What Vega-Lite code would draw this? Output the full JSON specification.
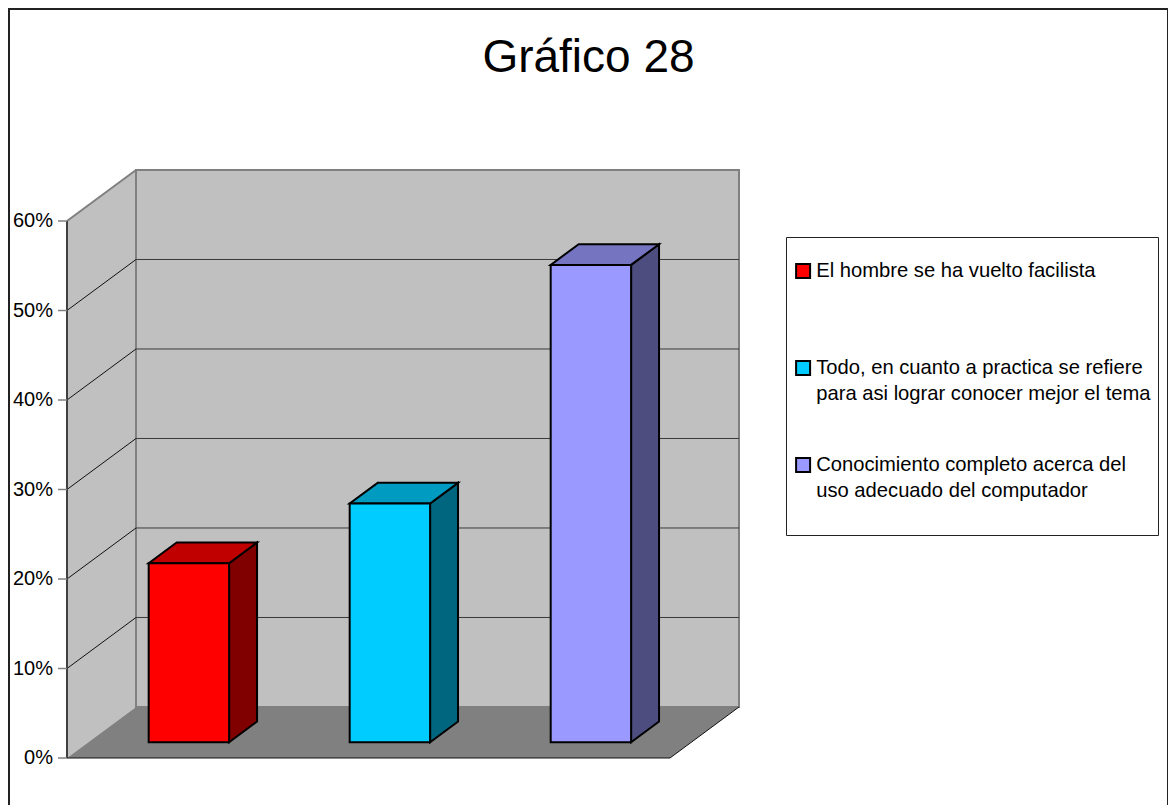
{
  "$schema": "https://vega.github.io/schema/vega-lite/v6.json",
  "autosize": "none",
  "padding": {"left": 9, "top": 9, "right": 0, "bottom": 0},
  "width": 1159,
  "height": 800,
  "background": "white",
  "config": {
    "view": {"stroke": "#222222", "strokeWidth": 2},
    "font": "Liberation Sans",
    "style": {"guide-label": {"lineHeight": 26}}
  },
  "title": {
    "text": "Gráfico 28",
    "font": "Liberation Sans",
    "fontSize": 46,
    "fontWeight": "normal",
    "color": "black",
    "anchor": "middle",
    "frame": "group",
    "offset": -73
  },
  "datasets": {
    "respuestas": [
      {"respuesta": "El hombre se ha vuelto facilista", "porcentaje": 0.2},
      {"respuesta": "Todo, en cuanto a practica se refiere para asi lograr conocer mejor el tema", "porcentaje": 0.2667},
      {"respuesta": "Conocimiento completo acerca del uso adecuado del computador", "porcentaje": 0.5333}
    ],
    "planos": [{"plano": "frente"}, {"plano": "fondo"}],
    "niveles": [
      {"nivel": 0}, {"nivel": 0.1}, {"nivel": 0.2}, {"nivel": 0.3},
      {"nivel": 0.4}, {"nivel": 0.5}, {"nivel": 0.6}
    ]
  },
  "layer": [
    {
      "data": {"name": "planos"},
      "transform": [
        {"calculate": "datum.plano == 'fondo' ? 1 : 0", "as": "f"},
        {"calculate": "datum.f * 0.3433", "as": "xa"},
        {"calculate": "datum.f * 0.057", "as": "ya"},
        {"calculate": "0.6 + datum.f * 0.057", "as": "yb"}
      ],
      "mark": {"type": "area", "orient": "vertical", "fill": "#c0c0c0", "opacity": 1},
      "encoding": {
        "x": {"field": "xa", "type": "quantitative", "scale": {"domain": [-0.288557, 5.477612], "nice": false, "zero": false}, "axis": null},
        "y": {
          "field": "ya", "type": "quantitative", "stack": null,
          "scale": {"domain": [-0.056983, 0.836872], "nice": false, "zero": false},
          "axis": null
        },
        "y2": {"field": "yb"}
      }
    },
    {
      "data": {"name": "planos"},
      "transform": [
        {"calculate": "datum.plano == 'fondo' ? 1 : 0", "as": "f"},
        {"calculate": "datum.f * 0.3433", "as": "xa"},
        {"calculate": "3 + datum.f * 0.3433", "as": "xb"},
        {"calculate": "datum.f * 0.057", "as": "ya"}
      ],
      "mark": {"type": "area", "orient": "horizontal", "fill": "#808080", "opacity": 1},
      "encoding": {
        "y": {"field": "ya", "type": "quantitative", "stack": null, "axis": null},
        "x": {"field": "xa", "type": "quantitative", "axis": null},
        "x2": {"field": "xb"}
      }
    },
    {
      "data": {"name": "planos"},
      "transform": [
        {"filter": "datum.plano == 'fondo'"},
        {"calculate": "0.3433", "as": "xa"},
        {"calculate": "3.3433", "as": "xb"},
        {"calculate": "0.057", "as": "ya"},
        {"calculate": "0.657", "as": "yb"}
      ],
      "mark": {"type": "rect", "fill": "#c0c0c0", "stroke": "#808080", "strokeWidth": 2},
      "encoding": {
        "x": {"field": "xa", "type": "quantitative", "axis": null},
        "x2": {"field": "xb"},
        "y": {"field": "ya", "type": "quantitative", "axis": null},
        "y2": {"field": "yb"}
      }
    },
    {
      "data": {"name": "niveles"},
      "transform": [
        {"filter": "datum.nivel > 0 && datum.nivel < 0.6"},
        {"calculate": "0.3433", "as": "xa"},
        {"calculate": "3.3433", "as": "xb"},
        {"calculate": "datum.nivel + 0.057", "as": "ya"}
      ],
      "mark": {"type": "rule", "color": "#3a3a3a", "strokeWidth": 1},
      "encoding": {
        "x": {"field": "xa", "type": "quantitative", "axis": null},
        "x2": {"field": "xb"},
        "y": {"field": "ya", "type": "quantitative", "axis": null}
      }
    },
    {
      "data": {"name": "niveles"},
      "transform": [
        {"filter": "datum.nivel > 0 && datum.nivel < 0.6"},
        {"calculate": "0", "as": "xa"},
        {"calculate": "0.3433", "as": "xb"},
        {"calculate": "datum.nivel + 0.057", "as": "yb"}
      ],
      "mark": {"type": "rule", "color": "#111111", "strokeWidth": 1},
      "encoding": {
        "x": {"field": "xa", "type": "quantitative", "axis": null},
        "x2": {"field": "xb"},
        "y": {"field": "nivel", "type": "quantitative", "axis": null},
        "y2": {"field": "yb"}
      }
    },
    {
      "data": {"name": "niveles"},
      "transform": [
        {"filter": "datum.nivel == 0.6"},
        {"calculate": "0", "as": "xa"},
        {"calculate": "0.3433", "as": "xb"},
        {"calculate": "datum.nivel + 0.057", "as": "yb"}
      ],
      "mark": {"type": "rule", "color": "#808080", "strokeWidth": 2},
      "encoding": {
        "x": {"field": "xa", "type": "quantitative", "axis": null},
        "x2": {"field": "xb"},
        "y": {"field": "nivel", "type": "quantitative", "axis": null},
        "y2": {"field": "yb"}
      }
    },
    {
      "data": {"name": "niveles"},
      "transform": [
        {"filter": "datum.nivel == 0.6"},
        {"calculate": "0", "as": "xa"},
        {"calculate": "0", "as": "ya"}
      ],
      "mark": {"type": "rule", "color": "#404040", "strokeWidth": 2},
      "encoding": {
        "x": {"field": "xa", "type": "quantitative", "axis": null},
        "y": {"field": "ya", "type": "quantitative", "axis": null},
        "y2": {"field": "nivel"}
      }
    },
    {
      "data": {"name": "planos"},
      "transform": [
        {"calculate": "datum.plano == 'fondo' ? 1 : 0", "as": "f"},
        {"calculate": "datum.f == 1 ? 3 : 0", "as": "xa"},
        {"calculate": "datum.f == 1 ? 3.3433 : 3", "as": "xb"},
        {"calculate": "0", "as": "ya"},
        {"calculate": "datum.f == 1 ? 0.057 : 0", "as": "yb"}
      ],
      "mark": {"type": "rule", "color": "#111111", "strokeWidth": 1},
      "encoding": {
        "x": {"field": "xa", "type": "quantitative", "axis": null},
        "x2": {"field": "xb"},
        "y": {"field": "ya", "type": "quantitative", "axis": null},
        "y2": {"field": "yb"}
      }
    },
    {
      "data": {"name": "niveles"},
      "transform": [
        {"calculate": "-0.0448", "as": "xa"},
        {"calculate": "0", "as": "xb"}
      ],
      "mark": {"type": "rule", "color": "#808080", "strokeWidth": 1.5},
      "encoding": {
        "x": {"field": "xa", "type": "quantitative", "axis": null},
        "x2": {"field": "xb"},
        "y": {"field": "nivel", "type": "quantitative", "axis": null}
      }
    },
    {
      "data": {"name": "niveles"},
      "transform": [
        {"calculate": "0", "as": "xa"}
      ],
      "mark": {"type": "text", "align": "right", "baseline": "middle", "dx": -14, "font": "Liberation Sans", "fontSize": 20, "color": "black"},
      "encoding": {
        "x": {"field": "xa", "type": "quantitative", "axis": null},
        "y": {"field": "nivel", "type": "quantitative", "axis": null},
        "text": {"field": "nivel", "type": "quantitative", "format": ".0%"}
      }
    },
    {
      "data": {"name": "respuestas"},
      "transform": [
        {"window": [{"op": "row_number", "as": "orden"}]},
        {"calculate": "0.31", "as": "frontal"},
        {"calculate": "0.715", "as": "trasera"},
        {"fold": ["frontal", "trasera"], "as": ["cara", "f"]},
        {"calculate": "datum.orden - 1 + 0.7 + datum.f * 0.3433", "as": "xa"},
        {"calculate": "datum.f * 0.057", "as": "ya"},
        {"calculate": "datum.porcentaje + datum.f * 0.057", "as": "yb"}
      ],
      "mark": {"type": "area", "orient": "vertical", "stroke": "black", "strokeWidth": 2, "strokeJoin": "miter", "opacity": 1},
      "encoding": {
        "x": {"field": "xa", "type": "quantitative", "axis": null},
        "y": {"field": "ya", "type": "quantitative", "stack": null, "axis": null},
        "y2": {"field": "yb"},
        "fill": {
          "field": "respuesta", "type": "nominal", "sort": null, "legend": null,
          "scale": {"range": ["#800000", "#006680", "#4d4d80"]}
        }
      }
    },
    {
      "data": {"name": "respuestas"},
      "transform": [
        {"window": [{"op": "row_number", "as": "orden"}]},
        {"calculate": "0.31", "as": "frontal"},
        {"calculate": "0.715", "as": "trasera"},
        {"fold": ["frontal", "trasera"], "as": ["cara", "f"]},
        {"calculate": "datum.orden - 1 + 0.3 + datum.f * 0.3433", "as": "xa"},
        {"calculate": "datum.orden - 1 + 0.7 + datum.f * 0.3433", "as": "xb"},
        {"calculate": "datum.porcentaje + datum.f * 0.057", "as": "ya"}
      ],
      "mark": {"type": "area", "orient": "horizontal", "stroke": "black", "strokeWidth": 2, "strokeJoin": "miter", "opacity": 1},
      "encoding": {
        "y": {"field": "ya", "type": "quantitative", "stack": null, "axis": null},
        "x": {"field": "xa", "type": "quantitative", "axis": null},
        "x2": {"field": "xb"},
        "fill": {
          "field": "respuesta", "type": "nominal", "sort": null, "legend": null,
          "scale": {"range": ["#c00000", "#009bc0", "#7474c0"]}
        }
      }
    },
    {
      "data": {"name": "respuestas"},
      "transform": [
        {"window": [{"op": "row_number", "as": "orden"}]},
        {"calculate": "datum.orden - 1 + 0.3 + 0.31 * 0.3433", "as": "xa"},
        {"calculate": "datum.orden - 1 + 0.7 + 0.31 * 0.3433", "as": "xb"},
        {"calculate": "0.31 * 0.057", "as": "ya"},
        {"calculate": "datum.porcentaje + 0.31 * 0.057", "as": "yb"}
      ],
      "mark": {"type": "rect", "stroke": "black", "strokeWidth": 2, "opacity": 1},
      "encoding": {
        "x": {"field": "xa", "type": "quantitative", "axis": null},
        "x2": {"field": "xb"},
        "y": {"field": "ya", "type": "quantitative", "axis": null},
        "y2": {"field": "yb"},
        "fill": {
          "field": "respuesta", "type": "nominal", "sort": null,
          "scale": {"range": ["#ff0000", "#00ccff", "#9999ff"]},
          "legend": {
            "orient": "none",
            "legendX": 777,
            "legendY": 228,
            "title": " ",
            "titleFontSize": 10,
            "titlePadding": 7,
            "padding": 7,
            "strokeColor": "#222222",
            "fillColor": "white",
            "symbolType": "square",
            "symbolSize": 196,
            "symbolStrokeColor": "black",
            "symbolStrokeWidth": 2,
            "symbolOpacity": 1,
            "labelFont": "Liberation Sans",
            "labelFontSize": 20.2,
            "labelColor": "black",
            "labelLimit": 600,
            "labelOffset": 3,
            "labelBaseline": "middle",
            "rowPadding": 23,
            "gridAlign": "all",
            "labelExpr": "datum.label == 'El hombre se ha vuelto facilista' ? ['El hombre se ha vuelto facilista', '', ''] : datum.label == 'Todo, en cuanto a practica se refiere para asi lograr conocer mejor el tema' ? ['Todo, en cuanto a practica se refiere', 'para asi lograr conocer mejor el tema', ''] : ['Conocimiento completo acerca del', 'uso adecuado del computador', '']"
          }
        }
      }
    }
  ],
  "resolve": {"scale": {"fill": "independent"}}
}
